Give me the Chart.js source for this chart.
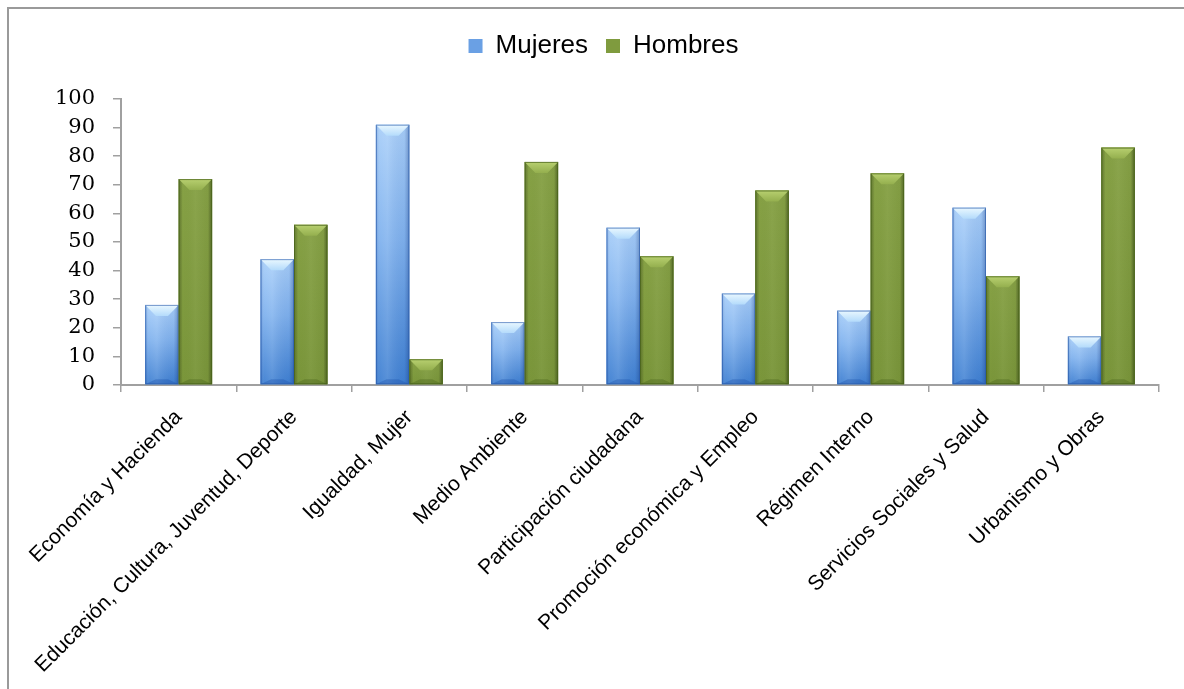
<!DOCTYPE html>
<html><head><meta charset="utf-8">
<script src="https://cdn.jsdelivr.net/npm/chart.js@4.4.0/dist/chart.umd.min.js"></script>
<style>html,body{margin:0;padding:0;background:#fff}#wrap{position:relative;width:1184px;height:689px}</style>
</head><body><div id="wrap"><canvas id="c" width="1184" height="689"></canvas></div>
<script>
const categories = ["Economía y Hacienda","Educación, Cultura, Juventud, Deporte","Igualdad, Mujer","Medio Ambiente","Participación ciudadana","Promoción económica y Empleo","Régimen Interno","Servicios Sociales y Salud","Urbanismo y Obras"];
const mujeres = [28,44,91,22,55,32,26,62,17];
const hombres = [72,56,9,78,45,68,74,38,83];
const seriesNames = ["Mujeres","Hombres"];
const yTickValues = [0,10,20,30,40,50,60,70,80,90,100];

const frame = {
  id:'frame',
  beforeDraw(chart){
    const c = chart.ctx;
    c.save();
    c.fillStyle='#fff'; c.fillRect(0,0,chart.width,chart.height);
    c.strokeStyle='#9a9a9a'; c.lineWidth=2;
    c.beginPath(); c.moveTo(8,chart.height+5); c.lineTo(8,8); c.lineTo(chart.width+5,8); c.stroke();
    c.restore();
  }
};

function drawBar(c, left, right, top, bottom, kind){
  const w = right-left, h = bottom-top;
  if (h <= 0) return;
  c.save();
  let g = c.createLinearGradient(0, top, 0, bottom);
  if (kind===0){
    g.addColorStop(0,'#a9cff9'); g.addColorStop(0.45,'#80b2ee'); g.addColorStop(1,'#3f80d2');
  } else {
    g.addColorStop(0,'#86a145'); g.addColorStop(1,'#7a963a');
  }
  c.fillStyle=g; c.fillRect(left,top,w,h);
  let hg = c.createLinearGradient(left,0,right,0);
  if (kind===0){
    hg.addColorStop(0,'rgba(20,60,140,0.25)'); hg.addColorStop(0.12,'rgba(255,255,255,0.05)');
    hg.addColorStop(0.35,'rgba(255,255,255,0.12)'); hg.addColorStop(0.85,'rgba(20,50,120,0.05)');
    hg.addColorStop(1,'rgba(10,40,110,0.35)');
  } else {
    hg.addColorStop(0,'rgba(40,60,10,0.35)'); hg.addColorStop(0.12,'rgba(0,0,0,0)');
    hg.addColorStop(0.5,'rgba(255,255,255,0.04)'); hg.addColorStop(0.88,'rgba(0,0,0,0.03)');
    hg.addColorStop(1,'rgba(30,50,5,0.45)');
  }
  c.fillStyle=hg; c.fillRect(left,top,w,h);
  const d = Math.min(11, h/2);
  const inset = w*0.32;
  c.beginPath(); c.moveTo(left,top); c.lineTo(right,top); c.lineTo(right-inset,top+d); c.lineTo(left+inset,top+d); c.closePath();
  let tg = c.createLinearGradient(0,top,0,top+d);
  if (kind===0){ tg.addColorStop(0,'#eaf8ff'); tg.addColorStop(1,'#b4dbfb'); }
  else { tg.addColorStop(0,'#b8d070'); tg.addColorStop(1,'#94af4e'); }
  c.fillStyle=tg; c.fill();
  const bd = Math.min(5, h/3);
  c.beginPath(); c.moveTo(left,bottom); c.lineTo(right,bottom); c.lineTo(right-inset,bottom-bd); c.lineTo(left+inset,bottom-bd); c.closePath();
  c.fillStyle = kind===0 ? 'rgba(30,80,170,0.35)' : 'rgba(60,85,20,0.3)'; c.fill();
  c.strokeStyle = kind===0 ? 'rgba(40,90,170,0.6)' : 'rgba(70,95,25,0.7)'; c.lineWidth=1;
  c.strokeRect(left+0.5,top+0.5,w-1,h-1);
  c.restore();
}

const bevel = {
  id:'bevel',
  afterDatasetsDraw(chart){
    const c = chart.ctx;
    chart.data.datasets.forEach((ds,i)=>{
      const meta = chart.getDatasetMeta(i);
      meta.data.forEach(el=>{
        const p = el.getProps(['x','y','base','width'], true);
        drawBar(c, p.x-p.width/2, p.x+p.width/2, p.y, p.base, i);
      });
    });
  }
};

const legendSpace = {
  id:'legendSpace',
  beforeInit(chart){
    const fit = chart.legend.fit;
    chart.legend.fit = function(){ fit.bind(chart.legend)(); this.height += 30; };
  },
  afterLayout(chart){
    chart.legend.left += 24; chart.legend.right += 24;
  }
};

new Chart(document.getElementById('c'), {
  type:'bar',
  data:{
    labels: categories,
    datasets:[
      {label: seriesNames[0], data: mujeres, backgroundColor:'#6aa0e4', borderWidth:0, categoryPercentage:0.58, barPercentage:1},
      {label: seriesNames[1], data: hombres, backgroundColor:'#7f9b3e', borderWidth:0, categoryPercentage:0.58, barPercentage:1}
    ]
  },
  options:{
    responsive:false, animation:false, devicePixelRatio:1,
    layout:{padding:{left:0,right:25,top:15,bottom:0}},
    plugins:{
      tooltip:{enabled:false},
      legend:{
        position:'top',
        labels:{font:{family:'Liberation Sans, Arial, sans-serif', size:26}, color:'#000', boxWidth:14, boxHeight:14, padding:18}
      }
    },
    scales:{
      x:{
        grid:{drawOnChartArea:false, drawTicks:true, tickLength:7, color:'#a0a0a0', lineWidth:1.5, offset:true},
        border:{display:true, color:'#a0a0a0', width:2},
        ticks:{autoSkip:false, maxRotation:45, minRotation:45, color:'#000', padding:13, labelOffset:0,
          font:{family:'Liberation Sans, Arial, sans-serif', size:21}},
        afterFit(s){ s.height = 689-385; }
      },
      y:{
        min:0, max:100,
        afterBuildTicks(s){ s.ticks = yTickValues.map(v=>({value:v})); },
        grid:{drawOnChartArea:false, drawTicks:true, tickLength:8, color:'#a0a0a0', lineWidth:1.5},
        border:{display:true, color:'#a0a0a0', width:2},
        ticks:{color:'#000', padding:18, font:{family:'DejaVu Serif, serif', size:21}},
        afterFit(s){ s.width = 121; }
      }
    }
  },
  plugins:[frame, bevel, legendSpace]
});
</script></body></html>
